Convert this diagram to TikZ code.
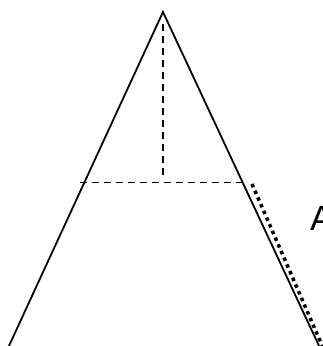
\documentclass[tikz,border=0pt]{standalone}
\usepackage{fontspec}
\setmainfont{Liberation Sans}
\begin{document}
\begin{tikzpicture}[x=1pt,y=-1pt,
  edge/.style={line width=1.8pt,line cap=round},
  guide/.style={line width=1.5pt,dash pattern=on 7pt off 5pt},
  dotline/.style={line width=3.5pt,dash pattern=on 3.5pt off 3.8pt}]
\useasboundingbox (0,0) rectangle (323,346);
\coordinate (apex) at (163,12);
\coordinate (bl) at (8,348);
\coordinate (br) at (320,348);
\coordinate (vtop) at (163,24);
\coordinate (vbot) at (163,175);
\coordinate (hl) at (80,182.5);
\coordinate (hr) at (243,182.5);
\coordinate (ds) at (252,184);
\coordinate (de) at (324,350);
\draw[edge] (bl) -- (apex) -- (br);
\draw[guide] (vtop) -- (vbot);
\draw[guide] (hl) -- (hr);
\draw[dotline] (ds) -- (de);
\node[anchor=base west,inner sep=0pt,font=\fontsize{35}{40}\selectfont] (lab) at (310,230) {A};
\end{tikzpicture}
\end{document}
